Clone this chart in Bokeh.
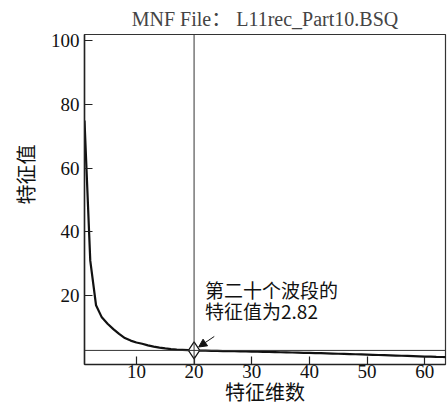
from bokeh.plotting import figure
from bokeh.embed import file_html
from bokeh.resources import INLINE
from bokeh.models import Span, Label, Arrow, NormalHead, FixedTicker, Range1d, ColumnDataSource, Title

# ---- data ----
dims = list(range(1, 65))
eigenvalues = [
    75.0, 31.0, 17.0, 13.2, 11.2, 9.5, 8.0, 6.7, 5.9, 5.3,
    4.9, 4.4, 4.0, 3.7, 3.45, 3.25, 3.1, 3.0, 2.9, 2.82,
    2.78, 2.74, 2.70, 2.67, 2.63, 2.60, 2.56, 2.52, 2.48, 2.44,
    2.40, 2.36, 2.32, 2.28, 2.24, 2.20, 2.16, 2.12, 2.08, 2.04,
    1.99, 1.94, 1.89, 1.84, 1.78, 1.73, 1.68, 1.62, 1.56, 1.50,
    1.44, 1.38, 1.32, 1.26, 1.20, 1.14, 1.08, 1.02, 0.96, 0.90,
    0.85, 0.80, 0.76, 0.72,
]
marked_band = 20
marked_value = 2.82
x_ticks = [10, 20, 30, 40, 50, 60]
y_ticks = [20, 40, 60, 80, 100]

title_text = "MNF File\uff1a L11rec_Part10.BSQ"
x_label = "特征维数"
y_label = "特征值"
note_line1 = "第二十个波段的"
note_line2 = "特征值为2.82"

SERIF_CJK = "Liberation Serif, Noto Sans CJK SC"
TICK_FONT = "\"Liberation Serif\", \"Times New Roman\", serif"
CJK = "Noto Sans CJK SC"

p = figure(width=447, height=408, output_backend="svg", toolbar_location=None,
           x_range=Range1d(1, 63.6), y_range=Range1d(-1.6, 102.0),
           min_border_left=83, min_border_right=2, min_border_top=10)

p.title.text = title_text
p.title.align = "center"
p.title.text_font = SERIF_CJK
p.title.text_font_size = "20px"
p.title.text_font_style = "normal"
p.title.standoff = 10
p.title.offset = 0

p.xgrid.visible = False
p.ygrid.visible = False
p.outline_line_color = "#333333"
p.outline_line_width = 1.2

for ax in (p.xaxis[0], p.yaxis[0]):
    ax.axis_line_color = "#222222"
    ax.axis_line_width = 1.5
    ax.major_tick_in = 8
    ax.major_tick_out = 0
    ax.major_tick_line_color = "#222222"
    ax.major_tick_line_width = 1.2
    ax.minor_tick_line_color = None
    ax.major_label_text_font = TICK_FONT
    ax.major_label_text_font_size = "19px"
    ax.major_label_text_font_style = "normal"
    ax.major_label_text_color = "#111111"

p.xaxis.ticker = FixedTicker(ticks=x_ticks)
p.yaxis.ticker = FixedTicker(ticks=y_ticks)
p.xaxis.major_label_standoff = 0
p.yaxis.major_label_standoff = 5
p.xaxis.axis_label = x_label
p.xaxis.axis_label_text_font = CJK
p.xaxis.axis_label_text_font_size = "20px"
p.xaxis.axis_label_text_font_style = "normal"
p.xaxis.axis_label_text_color = "#111111"
p.xaxis.axis_label_standoff = -4

ytitle = Title(text=y_label, align="right", offset=110, text_font=CJK,
               text_font_size="20px", text_font_style="normal", text_color="#111111",
               standoff=16)
p.add_layout(ytitle, "left")

# reference lines
p.add_layout(Span(location=marked_band, dimension="height", line_color="#333333", line_width=1))
p.add_layout(Span(location=marked_value, dimension="width", line_color="#333333", line_width=1))

src = ColumnDataSource(dict(x=dims, y=eigenvalues))
p.line("x", "y", source=src, line_color="#111111", line_width=2.2)

p.scatter([marked_band], [marked_value], marker="diamond", size=17,
          fill_color="white", line_color="#111111", line_width=1.2)

p.add_layout(Arrow(end=NormalHead(size=8, fill_color="#111111", line_color="#111111"),
                   x_start=23.5, y_start=7.2, x_end=20.8, y_end=3.9,
                   line_color="#111111", line_width=1))

p.add_layout(Label(x=21.9, y=22.0, text=note_line1, text_font=CJK, text_font_size="19px",
                   text_baseline="middle", text_align="left", text_color="#111111"))
p.add_layout(Label(x=21.9, y=15.2, text=note_line2, text_font=CJK, text_font_size="19px",
                   text_baseline="middle", text_align="left", text_color="#111111"))

open("out.html", "w").write(file_html(p, INLINE))
